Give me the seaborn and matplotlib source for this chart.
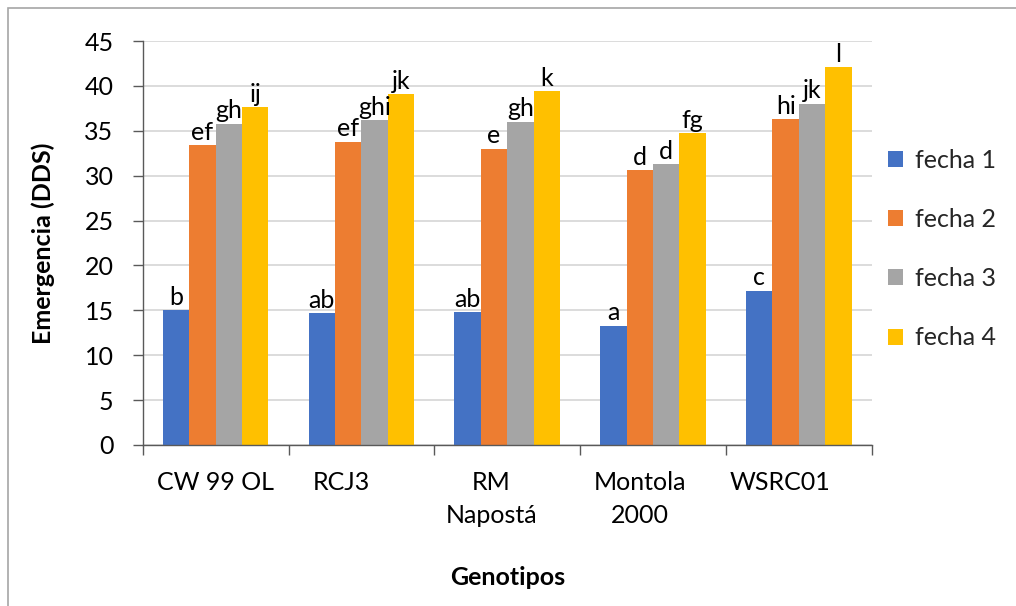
import matplotlib
matplotlib.use("Agg")
import matplotlib.pyplot as plt
import matplotlib.transforms as mtransforms
from matplotlib.patches import Rectangle
import seaborn as sns
import pandas as pd

# Genotypes and emergence (days after sowing) per sowing date
genotipos = ["CW 99 OL", "RCJ3", "RM\nNapostá", "Montola\n2000", "WSRC01"]
fechas = ["fecha 1", "fecha 2", "fecha 3", "fecha 4"]
fecha1 = [15.0, 14.7, 14.8, 13.3, 17.2]
fecha2 = [33.4, 33.8, 33.0, 30.6, 36.3]
fecha3 = [35.8, 36.2, 36.0, 31.3, 38.0]
fecha4 = [37.6, 39.1, 39.4, 34.7, 42.1]

# Significance letters above each bar
letras1 = ["b", "ab", "ab", "a", "c"]
letras2 = ["ef", "ef", "e", "d", "hi"]
letras3 = ["gh", "ghi", "gh", "d", "jk"]
letras4 = ["ij", "jk", "k", "fg", "l"]

colores = ["#4472C4", "#ED7D31", "#A5A5A5", "#FFC000"]

valores = [fecha1, fecha2, fecha3, fecha4]
letras = [letras1, letras2, letras3, letras4]

df = pd.DataFrame(
    [(g, f, v) for f, serie in zip(fechas, valores) for g, v in zip(genotipos, serie)],
    columns=["Genotipo", "Fecha", "Emergencia"],
)

sns.set_theme(style="white")
plt.rcParams["font.family"] = ["Lato", "DejaVu Sans"]

fig = plt.figure(figsize=(10.16, 6.06), dpi=100)
ax = fig.add_axes([0.1405, 0.2657, 0.7175, 0.6666])

sns.barplot(
    data=df, x="Genotipo", y="Emergencia", hue="Fecha",
    order=genotipos, hue_order=fechas, palette=colores,
    width=0.724, gap=0, linewidth=0, saturation=1, ax=ax, legend=True,
)

for cont, labs in zip(ax.containers, letras):
    ax.bar_label(cont, labels=labs, padding=1, fontsize=18, color="black")

ax.set_ylim(0, 45)
ax.set_xlim(-0.5, len(genotipos) - 0.5)
ax.set_yticks(range(0, 46, 5))
ax.yaxis.grid(True, color="#d9d9d9", linewidth=1.3)
ax.set_axisbelow(True)

for side in ["top", "right"]:
    ax.spines[side].set_visible(False)
for side in ["left", "bottom"]:
    ax.spines[side].set_color("#595959")
    ax.spines[side].set_linewidth(1.0)

ax.tick_params(axis="y", which="major", length=7, width=1.0, color="#595959",
               pad=14, labelsize=18, labelcolor="black", left=True)
# category boundaries carry the tick marks, centres carry the labels
ax.set_xticks([i - 0.5 for i in range(len(genotipos) + 1)], minor=True)
ax.tick_params(axis="x", which="minor", length=7, width=1.0, color="#595959", bottom=True)
ax.tick_params(axis="x", which="major", length=0, pad=19, labelsize=18, labelcolor="black")
ax.set_xticks(range(len(genotipos)))
ax.set_xticklabels(genotipos, linespacing=1.5)

desplaz = [0, -20, -16, -13, -19]
for lab, dx in zip(ax.get_xticklabels(), desplaz):
    lab.set_transform(lab.get_transform() + mtransforms.ScaledTranslation(dx / 100, 0, fig.dpi_scale_trans))

ax.set_ylabel("Emergencia (DDS)", fontsize=18, fontweight="bold", color="black")
ax.yaxis.set_label_coords(-0.121, 0.5)
ax.set_xlabel("Genotipos", fontsize=18, fontweight="bold", color="black")
ax.xaxis.set_label_coords(0.5, -0.327)
ax.xaxis.label.set_verticalalignment("center")

handles, labels = ax.get_legend_handles_labels()
ax.get_legend().remove()
fig.legend(
    handles, labels, loc="center left", bbox_to_anchor=(0.874, 0.589),
    frameon=False, fontsize=18, handlelength=0.62, handleheight=0.62,
    handletextpad=0.45, labelspacing=1.45, borderpad=0, borderaxespad=0,
)

# chart area border
fig.patches.append(Rectangle((8 / 1016, -0.2), 1.2, 1.2 - 8 / 606,
                             transform=fig.transFigure, fill=False,
                             edgecolor="#a6a6a6", linewidth=1.2))

fig.savefig("out.png", dpi=100, facecolor="white")
